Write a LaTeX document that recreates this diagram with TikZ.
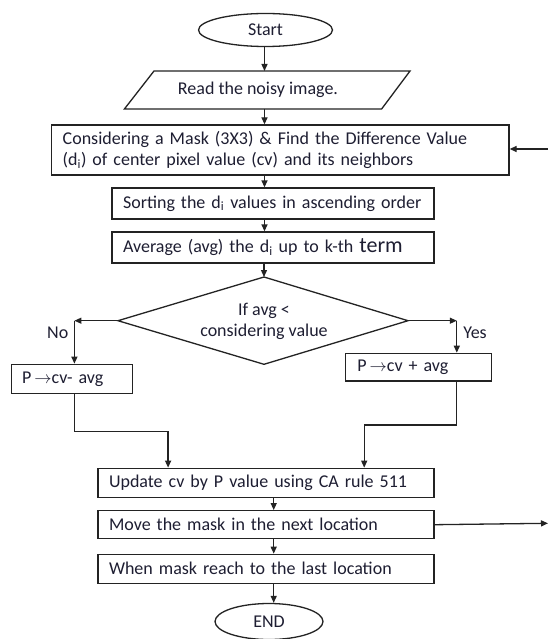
\documentclass[tikz,border=0pt]{standalone}
\usepackage{fontspec}
\setmainfont{Carlito}
\usetikzlibrary{shapes.geometric,arrows.meta}
\definecolor{txt}{RGB}{30,30,50}
\definecolor{ln}{RGB}{35,35,35}
\begin{document}
\begin{tikzpicture}[x=1pt,y=-1pt,
  every node/.style={font=\fontsize{18}{21}\selectfont, text=txt},
  box/.style={draw=ln, line width=1.3pt, rectangle, inner xsep=11pt, inner ysep=0pt, align=left},
  term/.style={draw=ln, line width=1.3pt, ellipse, inner sep=0pt},
  arr/.style={draw=ln, line width=1.3pt, -{Triangle[length=7pt,width=6pt]}},
  lnk/.style={draw=ln, line width=1.3pt}]
\fill[white] (0,0) rectangle (548,639);
\useasboundingbox (0,0) rectangle (548,639);

% terminals
\node[term, minimum width=134pt, minimum height=33pt] (start) at (265.5,30) {Start};
\node[term, minimum width=108pt, minimum height=36pt] (endn) at (269,621.5) {END};

% input parallelogram
\draw[lnk] (154,71) -- (410,71) -- (381.6,109) -- (124.4,109) -- cycle;
\node (read) at (258,90) {Read the noisy image.};
\coordinate (readtop) at (264.5,71);
\coordinate (readbot) at (264.5,109);

% process boxes
\node[box, minimum width=457.3pt, minimum height=50pt, text width=435.3pt] (mask) at (280.35,150)
  {Considering a Mask (3X3) \& Find the Difference Value\\(d\textsubscript{i}) of center pixel value (cv) and its neighbors};
\node[box, minimum width=322pt, minimum height=31pt, text width=300pt] (sort) at (273,203.5)
  {Sorting the d\textsubscript{i} values in ascending order};
\node[box, minimum width=322pt, minimum height=31pt, text width=300pt] (avg) at (273,247.5)
  {Average (avg) the d\textsubscript{i} up to k-th {\fontsize{22}{21}\selectfont term}};

% decision diamond
\coordinate (dt) at (264,277);
\coordinate (dr) at (408,320.7);
\coordinate (db) at (264,364.3);
\coordinate (dl) at (118,320.7);
\draw[lnk] (dt) -- (dr) -- (db) -- (dl) -- cycle;
\node[align=center] (dia) at (264,321.4) {If avg \textless\\considering value};

\node[box, minimum width=121pt, minimum height=29pt, text width=99pt] (nobox) at (71.65,378.8)
  {P\,$\rightarrow$cv- avg};
\node[box, minimum width=146pt, minimum height=27.7pt, text width=122pt] (yesbox) at (418.35,367.2)
  {P\,$\rightarrow$cv + avg};
\node[box, minimum width=336pt, minimum height=29pt, text width=314pt] (update) at (266,482.8)
  {Update cv by P value using CA rule 511};
\node[box, minimum width=336pt, minimum height=28pt, text width=314pt] (move) at (266,524.7)
  {Move the mask in the next location};
\node[box, minimum width=336pt, minimum height=29pt, text width=314pt] (last) at (266,568.8)
  {When mask reach to the last location};

% labels
\node (nolab) at (57.7,332.7) {No};
\node (yeslab) at (475,332.7) {Yes};

% helper coordinates
\coordinate (ax) at (264.5,0);
\coordinate (bx) at (273.7,0);
\coordinate (nc) at (74.4,320.7);
\coordinate (yc) at (456.8,320.7);
\coordinate (nb1) at (74.4,431.7);
\coordinate (nb2) at (168.1,431.7);
\coordinate (yb1) at (456.8,425);
\coordinate (yb2) at (364.2,425);
\coordinate (fbin) at (548,149);
\coordinate (fbout) at (548,523.3);

% connectors
\draw[arr] (start.south -| ax) -- (readtop);
\draw[arr] (readbot) -- (mask.north -| ax);
\draw[arr] (mask.south -| ax) -- (sort.north -| ax);
\draw[arr] (sort.south -| ax) -- (avg.north -| ax);
\draw[arr] (avg.south -| dt) -- (dt);
\draw[arr] (dl) -- (nc);
\draw[arr] (nc) -- (nobox.north -| nc);
\draw[arr] (dr) -- (yc);
\draw[arr] (yc) -- (yesbox.north -| yc);
\draw[arr] (nobox.south -| nc) -- (nb1) -- (nb2) -- (update.north -| nb2);
\draw[arr] (yesbox.south -| yc) -- (yb1) -- (yb2) -- (update.north -| yb2);
\draw[arr] (update.south -| bx) -- (move.north -| bx);
\draw[arr] (move.south -| bx) -- (last.north -| bx);
\draw[arr] (last.south -| bx) -- (endn.north -| bx);
\draw[arr] (fbin) -- (mask.east |- fbin);
\draw[arr] (move.east) -- (fbout);
\end{tikzpicture}
\end{document}
